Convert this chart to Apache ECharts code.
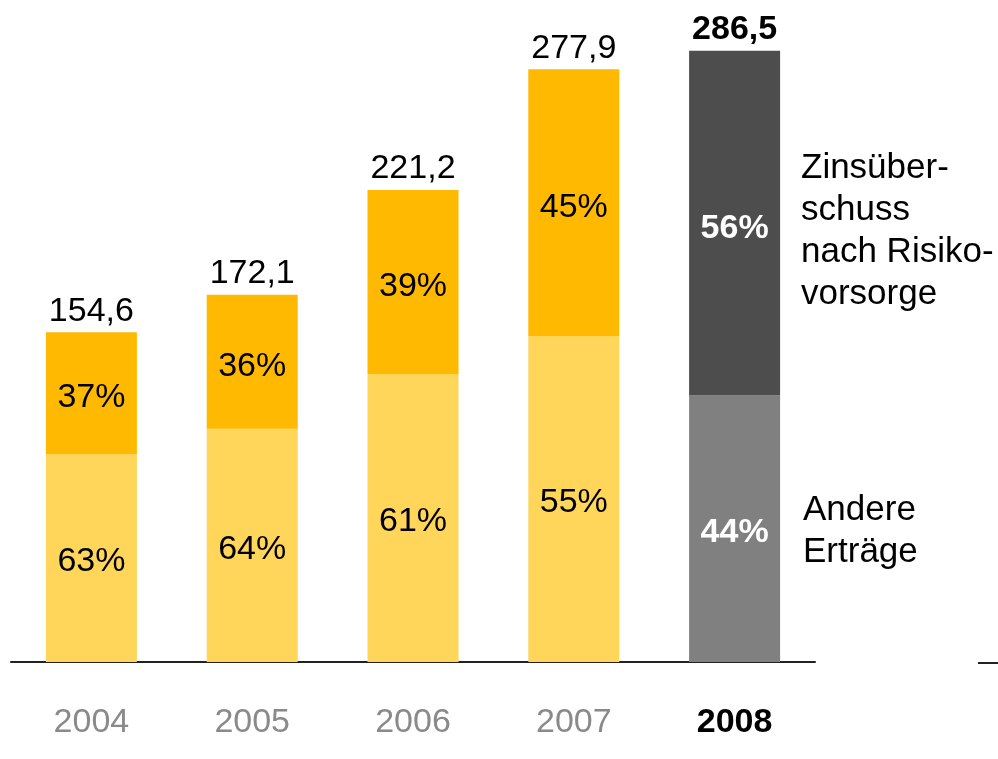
<!DOCTYPE html>
<html>
<head>
<meta charset="utf-8">
<script src="https://cdn.jsdelivr.net/npm/echarts@6/dist/echarts.min.js"></script>
<style>
  html, body { margin: 0; padding: 0; background: #fff; }
  #chart { width: 998px; height: 759px; }
</style>
</head>
<body>
<div id="chart"></div>
<script>
const years = ['2004', '2005', '2006', '2007', '2008']
const totals = ['154,6', '172,1', '221,2', '277,9', '286,5']
// Andere Erträge (unterer Teil) und Zinsüberschuss nach Risikovorsorge (oberer Teil)
const andere = [97.5, 109.3, 135.0, 152.8, 124.9]
const zins = [57.1, 62.8, 86.2, 125.1, 161.6]
const pctAndere = ['63%', '64%', '61%', '55%', '44%']
const pctZins = ['37%', '36%', '39%', '45%', '56%']

const font = 'Liberation Sans, Arial, Helvetica, sans-serif'
const last = years.length - 1

const myChart = echarts.init(document.getElementById('chart'))

const option = {
  animation: false,
  grid: {
    left: 11,
    right: 183,
    top: 22,
    bottom: 97
  },
  xAxis: {
    type: 'category',
    data: years,
    axisLine: { lineStyle: { color: '#222', width: 2 } },
    axisTick: { show: false },
    axisLabel: {
      interval: 0,
      margin: 44,
      fontFamily: font,
      fontSize: 34,
      color: '#8a8a8a',
      formatter: function (value) {
        return value === years[last] ? '{b|' + value + '}' : value
      },
      rich: {
        b: { fontFamily: font, fontSize: 34, fontWeight: 'bold', color: '#000' }
      }
    }
  },
  yAxis: {
    type: 'value',
    min: 0,
    max: 300,
    show: false
  },
  series: [
    {
      name: 'Andere Erträge',
      type: 'bar',
      stack: 'total',
      barWidth: 91,
      data: andere.map((v, i) => i === last
        ? { value: v, itemStyle: { color: '#808080' }, label: { color: '#fff', fontWeight: 'bold' } }
        : v),
      itemStyle: { color: '#ffd55a' },
      label: {
        show: true,
        position: 'inside',
        offset: [0, 4],
        fontFamily: font,
        fontSize: 34,
        color: '#000',
        formatter: (p) => pctAndere[p.dataIndex]
      }
    },
    {
      name: 'Zinsüberschuss nach Risikovorsorge',
      type: 'bar',
      stack: 'total',
      barWidth: 91,
      data: zins.map((v, i) => i === last
        ? { value: v, itemStyle: { color: '#4d4d4d' }, label: { color: '#fff', fontWeight: 'bold' } }
        : v),
      itemStyle: { color: '#ffb900' },
      label: {
        show: true,
        position: 'inside',
        offset: [0, 5],
        fontFamily: font,
        fontSize: 34,
        color: '#000',
        formatter: (p) => pctZins[p.dataIndex]
      }
    },
    {
      name: 'Summe',
      type: 'bar',
      stack: 'total',
      barWidth: 91,
      data: years.map((y, i) => i === last
        ? { value: 0, label: { fontWeight: 'bold' } }
        : 0),
      itemStyle: { color: 'transparent' },
      label: {
        show: true,
        position: 'top',
        distance: 4,
        fontFamily: font,
        fontSize: 34,
        color: '#000',
        formatter: (p) => totals[p.dataIndex]
      }
    }
  ],
  graphic: [
    {
      type: 'text',
      left: 801,
      top: 147,
      style: {
        text: 'Zinsüber-\nschuss\nnach Risiko-\nvorsorge',
        fontFamily: font,
        fontSize: 35,
        lineHeight: 42,
        fill: '#000'
      }
    },
    {
      type: 'text',
      left: 803,
      top: 489,
      style: {
        text: 'Andere\nErträge',
        fontFamily: font,
        fontSize: 35,
        lineHeight: 42,
        fill: '#000'
      }
    },
    {
      type: 'line',
      shape: { x1: 978, y1: 663, x2: 998, y2: 663 },
      style: { stroke: '#222', lineWidth: 2 }
    }
  ]
}

myChart.setOption(option)
</script>
</body>
</html>
